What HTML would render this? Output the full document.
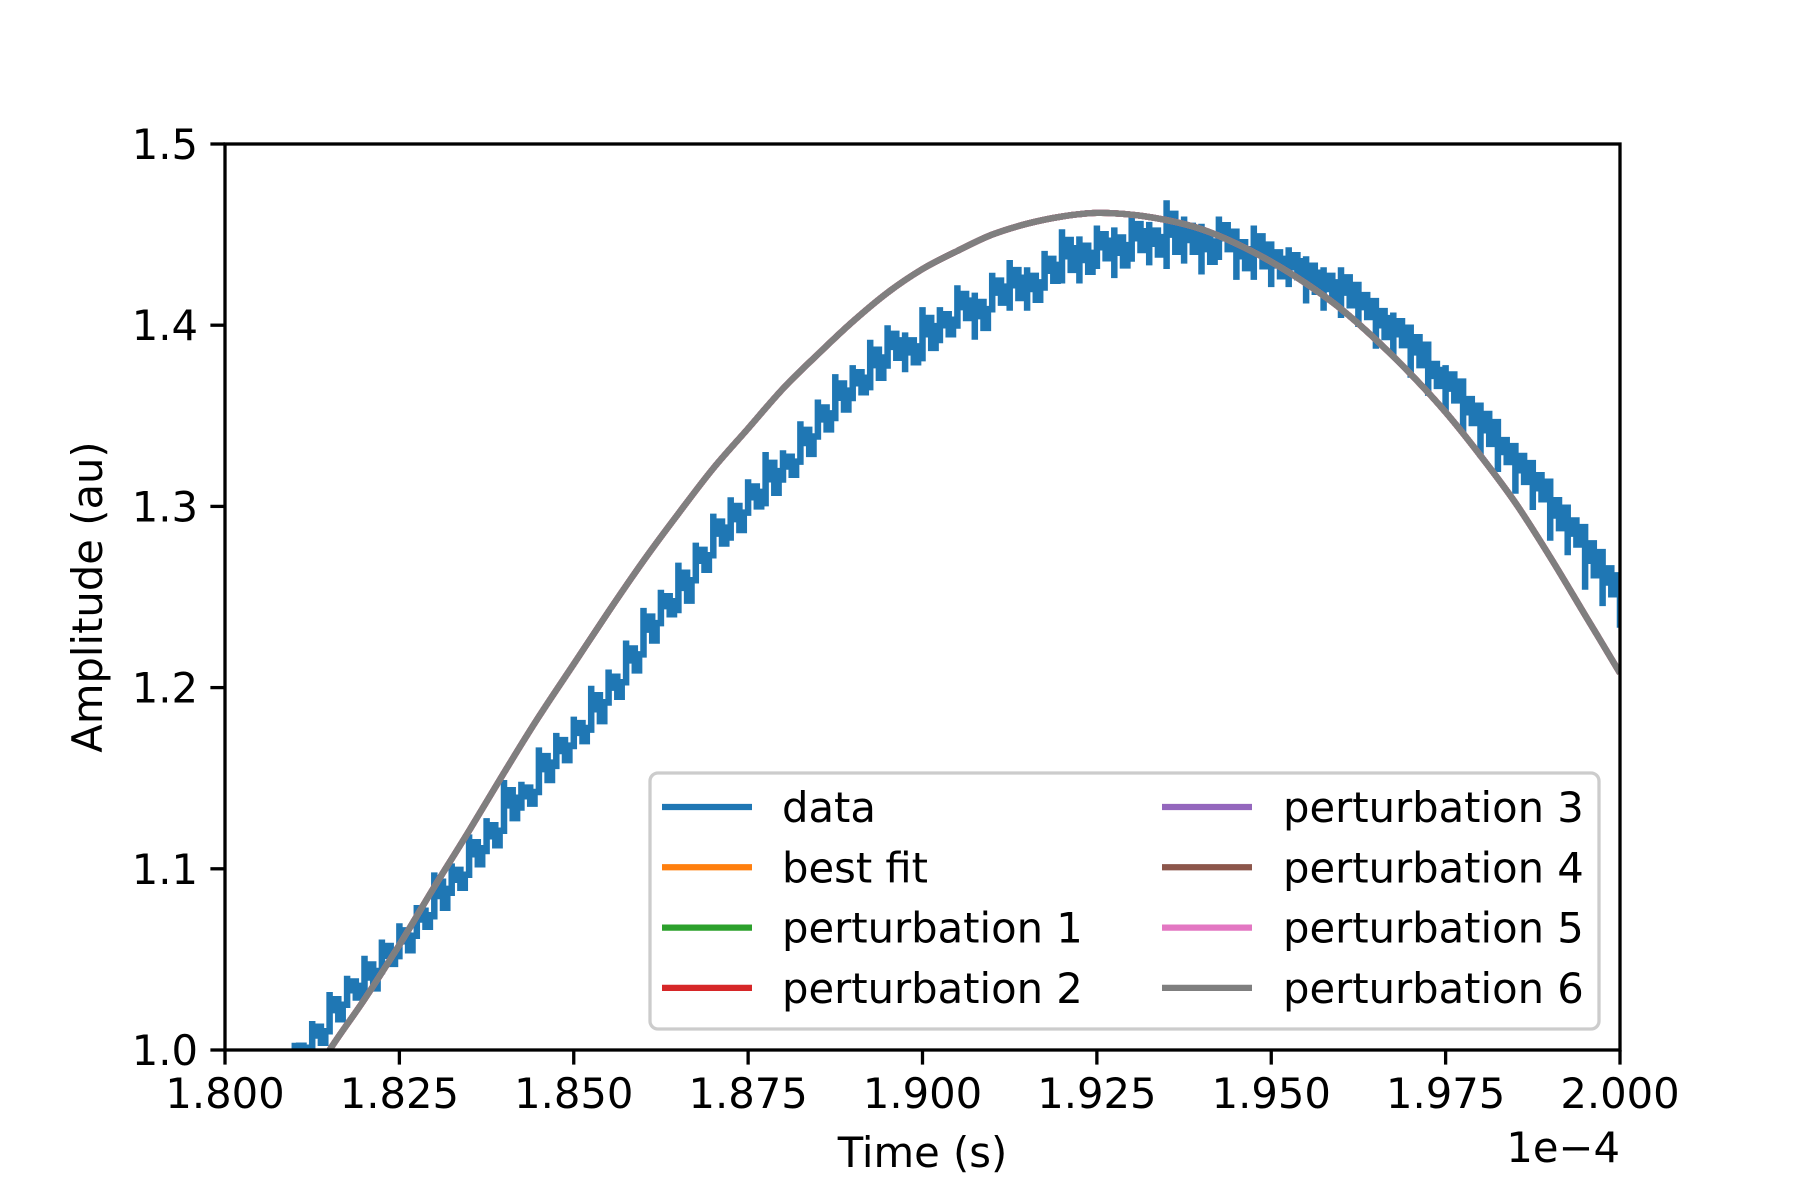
<!DOCTYPE html>
<html><head><meta charset="utf-8"><style>
html,body{margin:0;padding:0;background:#fff;}
svg{display:block;font-family:"DejaVu Sans","Liberation Sans",sans-serif;}
</style></head><body>
<svg id="chart" width="1800" height="1200" viewBox="0 0 1800 1200" xmlns="http://www.w3.org/2000/svg">
<defs><clipPath id="clip"><rect x="225" y="144" width="1395" height="906"/></clipPath></defs>
<rect x="0" y="0" width="1800" height="1200" fill="#fff"/>
<g id="series" clip-path="url(#clip)"></g>
<g id="axes"></g>
<g id="legend"></g>
</svg>
<script>
const xTicks = [1.800,1.825,1.850,1.875,1.900,1.925,1.950,1.975,2.000];
const xTickLabels = ["1.800","1.825","1.850","1.875","1.900","1.925","1.950","1.975","2.000"];
const yTicks = [1.0,1.1,1.2,1.3,1.4,1.5];
const yTickLabels = ["1.0","1.1","1.2","1.3","1.4","1.5"];
const dataT = [1.8100,1.8125,1.8150,1.8175,1.8200,1.8225,1.8250,1.8275,1.8300,1.8325,1.8350,1.8375,1.8400,1.8425,1.8450,1.8475,1.8500,1.8525,1.8550,1.8575,1.8600,1.8625,1.8650,1.8675,1.8700,1.8725,1.8750,1.8775,1.8800,1.8825,1.8850,1.8875,1.8900,1.8925,1.8950,1.8975,1.9000,1.9025,1.9050,1.9075,1.9100,1.9125,1.9150,1.9175,1.9200,1.9225,1.9250,1.9275,1.9300,1.9325,1.9350,1.9375,1.9400,1.9425,1.9450,1.9475,1.9500,1.9525,1.9550,1.9575,1.9600,1.9625,1.9650,1.9675,1.9700,1.9725,1.9750,1.9775,1.9800,1.9825,1.9850,1.9875,1.9900,1.9925,1.9950,1.9975,2.0000];
const dataV = [1.000,1.008,1.022,1.033,1.040,1.052,1.060,1.072,1.085,1.094,1.108,1.118,1.135,1.140,1.155,1.165,1.175,1.188,1.200,1.215,1.232,1.245,1.255,1.270,1.285,1.293,1.305,1.315,1.322,1.335,1.348,1.360,1.368,1.378,1.388,1.385,1.395,1.400,1.410,1.405,1.418,1.422,1.420,1.430,1.438,1.436,1.443,1.440,1.448,1.445,1.450,1.447,1.442,1.448,1.438,1.440,1.433,1.432,1.425,1.420,1.418,1.410,1.400,1.395,1.385,1.372,1.365,1.352,1.342,1.330,1.320,1.310,1.295,1.285,1.270,1.258,1.245];
const dataSpread = [0.004,0.008,0.010,0.008,0.012,0.009,0.010,0.008,0.013,0.009,0.011,0.010,0.014,0.008,0.012,0.010,0.009,0.013,0.010,0.011,0.012,0.009,0.014,0.010,0.011,0.012,0.010,0.015,0.009,0.012,0.011,0.013,0.010,0.014,0.012,0.011,0.015,0.010,0.012,0.013,0.011,0.014,0.012,0.011,0.015,0.013,0.012,0.014,0.013,0.012,0.019,0.013,0.014,0.012,0.013,0.015,0.012,0.011,0.013,0.012,0.014,0.011,0.013,0.012,0.014,0.011,0.013,0.012,0.015,0.011,0.013,0.012,0.014,0.012,0.016,0.013,0.012];
const fitT = [1.810,1.815,1.820,1.825,1.830,1.835,1.840,1.845,1.850,1.855,1.860,1.865,1.870,1.875,1.880,1.885,1.890,1.895,1.900,1.905,1.910,1.915,1.920,1.925,1.930,1.935,1.940,1.945,1.950,1.955,1.960,1.965,1.970,1.975,1.980,1.985,1.990,1.995,2.000];
const fitV = [0.968,1.000,1.028,1.058,1.090,1.121,1.153,1.184,1.213,1.242,1.270,1.296,1.321,1.343,1.365,1.384,1.402,1.418,1.431,1.441,1.450,1.456,1.460,1.462,1.461,1.458,1.453,1.445,1.435,1.423,1.409,1.392,1.373,1.352,1.328,1.302,1.272,1.240,1.208];
const seriesNames = ["data","best fit","perturbation 1","perturbation 2","perturbation 3","perturbation 4","perturbation 5","perturbation 6"];
const seriesColors = ["#1f77b4","#ff7f0e","#2ca02c","#d62728","#9467bd","#8c564b","#e377c2","#7f7f7f"];

const NS="http://www.w3.org/2000/svg";
const L=225,R=1620,T=144,B=1050;
const xs=v=>L+(v-1.8)/(0.2)*(R-L);
const ys=v=>B-(v-1.0)/(0.5)*(B-T);
function mk(tag,attrs,parent){const e=document.createElementNS(NS,tag);for(const k in attrs)e.setAttribute(k,attrs[k]);parent.appendChild(e);return e;}
const gS=document.getElementById('series'),gA=document.getElementById('axes'),gL=document.getElementById('legend');

// data: quantized step path
const subOff=[0,0.6,-0.5,0.3];
let d="";
for(let i=0;i<dataT.length;i++){
  const x=xs(dataT[i]),v=dataV[i],s=dataSpread[i];
  d+=(i?"L":"M")+x.toFixed(1)+","+ys(v).toFixed(1);
  d+="L"+x.toFixed(1)+","+ys(v+s).toFixed(1)+"L"+x.toFixed(1)+","+ys(v-s).toFixed(1)+"L"+x.toFixed(1)+","+ys(v).toFixed(1);
  if(i<dataT.length-1){
    const x2=xs(dataT[i+1]);
    let yprev=ys(v);
    for(let k=1;k<4;k++){
      const xm=x+(x2-x)*k/4, ym=ys(v+s*subOff[k]);
      d+="L"+xm.toFixed(1)+","+yprev.toFixed(1)+"L"+xm.toFixed(1)+","+ym.toFixed(1);
      yprev=ym;
    }
    d+="L"+x2.toFixed(1)+","+yprev.toFixed(1);
  }
}
const dp=mk('path',{d:d,fill:'none',stroke:seriesColors[0],'stroke-width':6.5,'stroke-linejoin':'miter'},gS);


// smooth fit (Catmull-Rom)
const P=fitT.map((t,i)=>[xs(t),ys(fitV[i])]);
let fd="M"+P[0][0].toFixed(1)+","+P[0][1].toFixed(1);
for(let i=0;i<P.length-1;i++){
  const p0=P[Math.max(0,i-1)],p1=P[i],p2=P[i+1],p3=P[Math.min(P.length-1,i+2)];
  const c1=[p1[0]+(p2[0]-p0[0])/6,p1[1]+(p2[1]-p0[1])/6];
  const c2=[p2[0]-(p3[0]-p1[0])/6,p2[1]-(p3[1]-p1[1])/6];
  fd+="C"+c1[0].toFixed(1)+","+c1[1].toFixed(1)+" "+c2[0].toFixed(1)+","+c2[1].toFixed(1)+" "+p2[0].toFixed(1)+","+p2[1].toFixed(1);
}
for(let k=1;k<seriesNames.length;k++){
  const p=mk('path',{d:fd,fill:'none',stroke:seriesColors[k],'stroke-width':6.25,'stroke-linejoin':'round'},gS);
  
  
}

// axes frame
const fr=mk('rect',{x:L,y:T,width:R-L,height:B-T,fill:'none',stroke:'#000','stroke-width':3.3},gA);


xTicks.forEach((v,i)=>{
  const x=xs(v);
  const t=mk('line',{x1:x,y1:B,x2:x,y2:B+14.6,stroke:'#000','stroke-width':3.3},gA);
  
  
  const tx=mk('text',{x:x,y:B+58,'text-anchor':'middle','font-size':41.7,fill:'#000'},gA);
  tx.textContent=xTickLabels[i];
  
  
});
yTicks.forEach((v,i)=>{
  const y=ys(v);
  const t=mk('line',{x1:L-14.6,y1:y,x2:L,y2:y,stroke:'#000','stroke-width':3.3},gA);
  
  
  const tx=mk('text',{x:L-27,y:y+15,'text-anchor':'end','font-size':41.7,fill:'#000'},gA);
  tx.textContent=yTickLabels[i];
  
  
});
const xl=mk('text',{x:(L+R)/2,y:1167,'text-anchor':'middle','font-size':41.7},gA);
xl.textContent="Time (s)";


const off=mk('text',{x:R,y:1162,'text-anchor':'end','font-size':41.7},gA);
off.textContent="1e\u22124";


const yl=mk('text',{x:0,y:0,'text-anchor':'middle','font-size':41.7,transform:'translate(102,'+((T+B)/2)+') rotate(-90)'},gA);
yl.textContent="Amplitude (au)";



// legend
const lb=mk('rect',{x:650,y:773,width:949,height:256,rx:8,fill:'#fff','fill-opacity':0.8,stroke:'#ccc','stroke-width':3.3},gL);


seriesNames.forEach((n,i)=>{
  const col=Math.floor(i/4),row=i%4;
  const hx=col?1162:662,tx=col?1283:782,y=807+row*60.3;
  const h=mk('line',{x1:hx,y1:y,x2:hx+90,y2:y,stroke:seriesColors[i],'stroke-width':6.25},gL);
  
  
  const t=mk('text',{x:tx,y:y+15,'font-size':41.7},gL);
  t.textContent=n;
  
  
});
</script>
</body></html>
